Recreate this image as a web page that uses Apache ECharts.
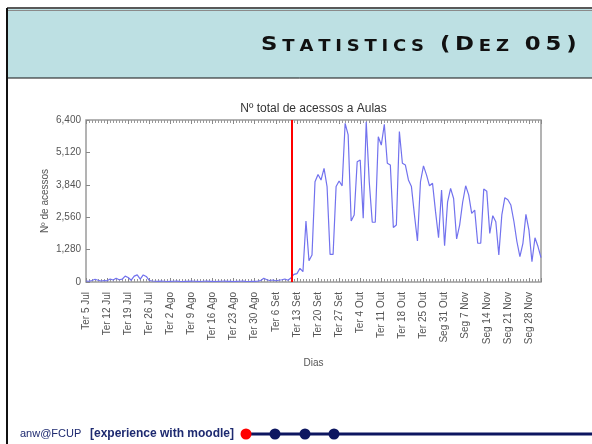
<!DOCTYPE html>
<html>
<head>
<meta charset="utf-8">
<script src="https://cdn.jsdelivr.net/npm/echarts@6/dist/echarts.min.js"></script>
<style>
html,body{margin:0;padding:0;background:#fff;}
#chart{width:592px;height:444px;}
</style>
</head>
<body>
<div id="chart"></div>
<script>
// Daily totals, day 0 = Ter 5 Jul 2005
const accessCounts = [
  40, 30, 60, 110, 70, 40, 60, 50, 120, 80, 150, 90, 110, 230, 180, 70, 230, 280, 110, 280, 220, 60, 40,
  30, 25, 35, 30, 20, 25, 30, 35, 25, 20, 30, 25, 35, 30, 25, 20, 30, 35, 25, 30, 20, 25, 30, 35, 25, 30, 20, 25, 30, 35, 25, 20, 30, 25, 35,
  60, 150, 90, 60, 80, 50, 70, 90, 120, 70, 160,
  300, 330, 540, 410, 2410, 840, 1070, 3960, 4250, 4030, 4490, 3770, 1090, 1090, 3770, 3990, 3800,
  6270, 5810, 2410, 2650, 4750, 4820, 2520, 6330, 3960, 2360, 2360, 5740, 5410, 6230, 4690, 4620,
  2150, 2250, 5940, 4690, 4620, 4030, 3770, 2650, 1620, 3960, 4590, 4230, 3800, 3900, 2780, 1750,
  3630, 1430, 3170, 3700, 3300, 1700, 2250, 3150, 3800, 3440, 2710, 2840, 1530, 1530, 3670, 3590,
  1920, 2620, 2380, 1070, 2650, 3330, 3250, 3040, 2400, 1600, 1000, 1530, 2670, 2050, 800, 1750, 1400, 960
];
const weekLabels = [
  'Ter 5 Jul', 'Ter 12 Jul', 'Ter 19 Jul', 'Ter 26 Jul', 'Ter 2 Ago', 'Ter 9 Ago', 'Ter 16 Ago',
  'Ter 23 Ago', 'Ter 30 Ago', 'Ter 6 Set', 'Ter 13 Set', 'Ter 20 Set', 'Ter 27 Set', 'Ter 4 Out',
  'Ter 11 Out', 'Ter 18 Out', 'Ter 25 Out', 'Seg 31 Out', 'Seg 7 Nov', 'Seg 14 Nov', 'Seg 21 Nov', 'Seg 28 Nov'
];
const yTickStep = [1280];
const yMax = [6400];
const markerDay = [68.4];

const chartTitle = 'Nº total de acessos a Aulas';
const yName = 'Nº de acessos';
const xName = 'Dias';
const slideTitle = 'STATISTICS (DEZ 05)';
const footerA = 'anw@FCUP';
const footerB = '[experience with moodle]';

const bigChars = '(D05)';
const slideRich = slideTitle.split('').map((c, i) => {
  const big = (i === 0) || bigChars.indexOf(c) >= 0;
  return '{' + (big ? 'b' : 's') + '|' + c + '}';
}).join('');

const chart = echarts.init(document.getElementById('chart'), null, {renderer: 'canvas'});
const axisFont = 'Liberation Sans, Arial, sans-serif';
const gridL = 86, gridT = 120, gridW = 455, gridH = 162;

const option = {
  animation: false,
  backgroundColor: '#ffffff',
  grid: {left: gridL, top: gridT, width: gridW, height: gridH, show: true, borderColor: '#9a9a9a', borderWidth: 1.5, backgroundColor: 'transparent'},
  xAxis: [{
    type: 'value', min: 0, max: accessCounts.length - 1, interval: 7,
    position: 'bottom',
    name: xName, nameLocation: 'middle', nameGap: 76, nameMoveOverlap: false,
    nameTextStyle: {fontFamily: axisFont, fontSize: 10, color: '#555'},
    axisLine: {show: false},
    splitLine: {show: false},
    axisTick: {show: true, inside: true, length: 4, lineStyle: {color: '#888'}},
    minorTick: {show: true, splitNumber: 7, length: 3, lineStyle: {color: '#999'}},
    axisLabel: {
      rotate: 90, margin: 10, fontFamily: axisFont, fontSize: 10, color: '#555', showMaxLabel: false,
      formatter: v => (v % 7 === 0 && weekLabels[v / 7]) ? weekLabels[v / 7] : ''
    }
  }, {
    type: 'value', min: 0, max: accessCounts.length - 1, interval: 7,
    position: 'top',
    axisLine: {show: false}, splitLine: {show: false},
    axisTick: {show: true, inside: true, length: 4, lineStyle: {color: '#888'}},
    minorTick: {show: true, splitNumber: 7, length: 3, lineStyle: {color: '#999'}},
    axisLabel: {show: false}
  }],
  yAxis: {
    type: 'value', min: 0, max: yMax[0], interval: yTickStep[0],
    name: yName, nameLocation: 'middle', nameGap: 36, nameRotate: 90, nameMoveOverlap: false,
    nameTextStyle: {fontFamily: axisFont, fontSize: 10, color: '#555'},
    axisLine: {show: false}, splitLine: {show: false},
    axisTick: {show: true, inside: true, length: 4, lineStyle: {color: '#888'}},
    axisLabel: {fontFamily: axisFont, fontSize: 10, color: '#555', margin: 5,
      formatter: v => v.toLocaleString('en-US')}
  },
  series: [{
    type: 'line',
    xAxisIndex: 0,
    data: accessCounts.map((v, i) => [i, v]),
    showSymbol: false,
    lineStyle: {color: '#7272ee', width: 1.2},
    markLine: {
      silent: true, symbol: ['none', 'none'], label: {show: false},
      lineStyle: {color: '#ff0000', width: 2, type: 'solid'},
      data: [{xAxis: markerDay[0]}]
    }
  }],
  graphic: [
    {type: 'rect', silent: true, shape: {x: 7, y: 9, width: 585, height: 69}, style: {fill: '#bde0e3'}},
    {type: 'line', silent: true, shape: {x1: 7, y1: 8, x2: 592, y2: 8}, style: {stroke: '#222', lineWidth: 1.5}},
    {type: 'line', silent: true, shape: {x1: 8, y1: 10.5, x2: 592, y2: 10.5}, style: {stroke: '#8a8a8a', lineWidth: 1}},
    {type: 'line', silent: true, shape: {x1: 7, y1: 78, x2: 592, y2: 78}, style: {stroke: '#111', lineWidth: 1}},
    {type: 'line', silent: true, shape: {x1: 7, y1: 8, x2: 7, y2: 444}, style: {stroke: '#111', lineWidth: 2}},
    {type: 'text', silent: true, x: 579, y: 55, scaleX: 1.2,
      style: {text: slideRich, align: 'right', verticalAlign: 'bottom',
        rich: {
          b: {fontFamily: 'DejaVu Sans', fontWeight: 'bold', fontSize: 19, fill: '#111', padding: [0, 2], verticalAlign: 'bottom'},
          s: {fontFamily: 'DejaVu Sans', fontWeight: 'bold', fontSize: 15, fill: '#111', padding: [0, 2], verticalAlign: 'bottom'}
        }}},
    {type: 'text', silent: true, x: gridL + gridW / 2, y: 109,
      style: {text: chartTitle, align: 'center', verticalAlign: 'middle', fontFamily: axisFont, fontSize: 12, fill: '#333'}},
    {type: 'text', silent: true, x: 20, y: 434,
      style: {text: footerA, align: 'left', verticalAlign: 'middle', fontFamily: axisFont, fontSize: 11, fill: '#1e2a70'}},
    {type: 'text', silent: true, x: 90, y: 434,
      style: {text: footerB, align: 'left', verticalAlign: 'middle', fontFamily: axisFont, fontSize: 12, fontWeight: 'bold', fill: '#1e2a70'}},
    {type: 'line', silent: true, shape: {x1: 247, y1: 434, x2: 592, y2: 434}, style: {stroke: '#0d1660', lineWidth: 3}},
    {type: 'circle', silent: true, shape: {cx: 246, cy: 434, r: 5.5}, style: {fill: '#ff0000'}},
    {type: 'circle', silent: true, shape: {cx: 275, cy: 434, r: 5.5}, style: {fill: '#0d1660'}},
    {type: 'circle', silent: true, shape: {cx: 305, cy: 434, r: 5.5}, style: {fill: '#0d1660'}},
    {type: 'circle', silent: true, shape: {cx: 334, cy: 434, r: 5.5}, style: {fill: '#0d1660'}}
  ]
};
chart.setOption(option);
</script>
</body>
</html>
